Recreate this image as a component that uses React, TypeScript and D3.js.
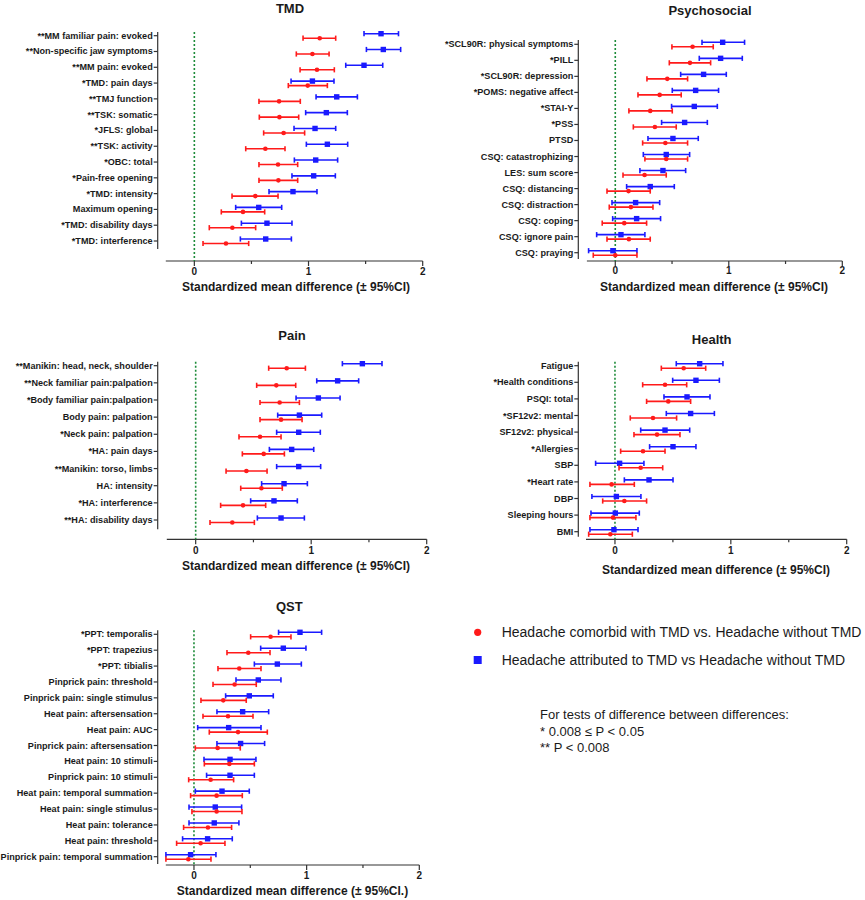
import React from "react";
import * as d3 from "d3";

// ---------- DATA ([mean, lo, hi]) ----------
const tmdLabels = [
  "**MM familiar pain: evoked", "**Non-specific jaw symptoms", "**MM pain: evoked", "*TMD: pain days",
  "**TMJ function", "**TSK: somatic", "*JFLS: global", "**TSK: activity", "*OBC: total",
  "*Pain-free opening", "*TMD: intensity", "Maximum opening", "*TMD: disability days", "*TMD: interference",
];
const tmdRed = [
  [1.098, 0.952, 1.238], [1.034, 0.893, 1.18], [1.074, 0.926, 1.226], [0.993, 0.823, 1.165],
  [0.742, 0.566, 0.928], [0.745, 0.569, 0.914], [0.782, 0.607, 0.966], [0.622, 0.45, 0.794],
  [0.733, 0.566, 0.905], [0.736, 0.566, 0.905], [0.534, 0.33, 0.733], [0.426, 0.236, 0.616],
  [0.333, 0.131, 0.537], [0.277, 0.076, 0.476],
];
const tmdBlue = [
  [1.635, 1.486, 1.788], [1.655, 1.507, 1.807], [1.486, 1.326, 1.65], [1.034, 0.847, 1.223],
  [1.247, 1.066, 1.428], [1.156, 0.975, 1.34], [1.057, 0.873, 1.238], [1.165, 0.981, 1.343],
  [1.063, 0.876, 1.255], [1.045, 0.855, 1.235], [0.864, 0.654, 1.074], [0.564, 0.362, 0.765],
  [0.636, 0.412, 0.855], [0.625, 0.403, 0.85],
];

const psyLabels = [
  "*SCL90R: physical symptoms", "*PILL", "*SCL90R: depression", "*POMS: negative affect", "*STAI-Y",
  "*PSS", "PTSD", "CSQ: catastrophizing", "LES: sum score", "CSQ: distancing", "CSQ: distraction",
  "CSQ: coping", "CSQ: ignore pain", "CSQ: praying",
];
const psyRed = [
  [0.681, 0.499, 0.863], [0.658, 0.476, 0.84], [0.458, 0.279, 0.637], [0.391, 0.2, 0.581],
  [0.308, 0.12, 0.502], [0.349, 0.159, 0.537], [0.441, 0.241, 0.637], [0.449, 0.261, 0.637],
  [0.258, 0.068, 0.449], [0.117, -0.073, 0.308], [0.138, -0.053, 0.332], [0.079, -0.115, 0.276],
  [0.12, -0.073, 0.308], [0.0, -0.194, 0.191],
];
const psyBlue = [
  [0.946, 0.764, 1.139], [0.928, 0.74, 1.119], [0.778, 0.576, 0.978], [0.708, 0.502, 0.91],
  [0.696, 0.496, 0.899], [0.611, 0.408, 0.811], [0.508, 0.288, 0.731], [0.449, 0.247, 0.655],
  [0.42, 0.217, 0.62], [0.308, 0.1, 0.52], [0.179, -0.029, 0.391], [0.188, -0.023, 0.399],
  [0.05, -0.164, 0.261], [-0.021, -0.235, 0.191],
];

const painLabels = [
  "**Manikin: head, neck, shoulder", "**Neck familiar pain:palpation", "*Body familiar pain:palpation",
  "Body pain: palpation", "*Neck pain: palpation", "*HA: pain days", "**Manikin: torso, limbs",
  "HA: intensity", "*HA: interference", "**HA: disability days",
];
const painRed = [
  [0.788, 0.632, 0.95], [0.698, 0.528, 0.866], [0.727, 0.557, 0.898], [0.739, 0.557, 0.921],
  [0.557, 0.375, 0.739], [0.589, 0.404, 0.768], [0.439, 0.263, 0.618], [0.569, 0.39, 0.75],
  [0.41, 0.216, 0.606], [0.317, 0.124, 0.508],
];
const painBlue = [
  [1.443, 1.27, 1.613], [1.229, 1.048, 1.411], [1.062, 0.869, 1.25], [0.898, 0.71, 1.091],
  [0.892, 0.701, 1.079], [0.831, 0.638, 1.022], [0.892, 0.701, 1.082], [0.765, 0.571, 0.967],
  [0.678, 0.476, 0.88], [0.739, 0.534, 0.941],
];

const healthLabels = [
  "Fatigue", "*Health conditions", "PSQI: total", "*SF12v2: mental", "SF12v2: physical", "*Allergies",
  "SBP", "*Heart rate", "DBP", "Sleeping hours", "BMI",
];
const healthRed = [
  [0.593, 0.4, 0.783], [0.432, 0.239, 0.619], [0.46, 0.273, 0.653], [0.328, 0.132, 0.532],
  [0.363, 0.164, 0.561], [0.242, 0.049, 0.432], [0.222, 0.035, 0.412], [-0.029, -0.216, 0.167],
  [0.081, -0.106, 0.273], [-0.017, -0.216, 0.181], [-0.04, -0.227, 0.15],
];
const healthBlue = [
  [0.731, 0.529, 0.932], [0.699, 0.498, 0.901], [0.622, 0.423, 0.82], [0.653, 0.443, 0.858],
  [0.432, 0.222, 0.645], [0.501, 0.299, 0.699], [0.04, -0.167, 0.25], [0.294, 0.081, 0.501],
  [0.012, -0.199, 0.224], [0.003, -0.207, 0.21], [-0.009, -0.216, 0.199],
];

const qstLabels = [
  "*PPT: temporalis", "*PPT: trapezius", "*PPT: tibialis", "Pinprick pain: threshold",
  "Pinprick pain: single stimulus", "Heat pain: aftersensation", "Heat pain: AUC",
  "Pinprick pain: aftersensation", "Heat pain: 10 stimuli", "Pinprick pain: 10 stimuli",
  "Heat pain: temporal summation", "Heat pain: single stimulus", "Heat pain: tolerance",
  "Heat pain: threshold", "Pinprick pain: temporal summation",
];
const qstRed = [
  [0.68, 0.503, 0.861], [0.482, 0.293, 0.675], [0.402, 0.213, 0.595], [0.361, 0.169, 0.553],
  [0.26, 0.062, 0.464], [0.302, 0.08, 0.524], [0.391, 0.136, 0.651], [0.21, 0.012, 0.411],
  [0.314, 0.092, 0.536], [0.148, -0.047, 0.352], [0.201, -0.03, 0.429], [0.201, -0.018, 0.426],
  [0.124, -0.092, 0.334], [0.059, -0.154, 0.275], [-0.05, -0.249, 0.151],
];
const qstBlue = [
  [0.941, 0.751, 1.133], [0.793, 0.592, 0.994], [0.74, 0.536, 0.953], [0.571, 0.373, 0.772],
  [0.491, 0.281, 0.704], [0.432, 0.204, 0.663], [0.308, 0.033, 0.595], [0.414, 0.204, 0.627],
  [0.32, 0.089, 0.55], [0.32, 0.112, 0.536], [0.249, 0.012, 0.491], [0.189, -0.044, 0.423],
  [0.18, -0.044, 0.399], [0.121, -0.101, 0.34], [-0.03, -0.249, 0.195],
];

const xDomain = [-0.25, 2];
const xTickValues = [0, 1, 2];
const xMinorTicks = [0.5, 1.5];
const legendLabels = [
  "Headache comorbid with TMD vs. Headache without TMD",
  "Headache attributed to TMD vs Headache without TMD",
];
const noteLines = [
  "For tests of difference between differences:",
  "* 0.008 \u2264 P < 0.05",
  "** P < 0.008",
];

// ---------- LAYOUT ----------
const FONT = "'Liberation Sans', Arial, Helvetica, sans-serif";
const RED = "#ff1a1a";
const BLUE = "#1a1aff";
const GREEN = "#1e8c3a";
const TXT = "#1a1a1a";

type Panel = {
  title: string; xlabel: string; labels: string[]; red: number[][]; blue: number[][];
  x0: number; x1: number; yAxisX: number; row0: number; row1: number; axTop: number; axBot: number;
  xAxisY: number; tickY: number; titleX: number; titleY: number; xlabX: number; xlabY: number;
};

const XL = "Standardized mean difference (\u00b1 95%CI)";

const panels: Panel[] = [
  { title: "TMD", xlabel: XL, labels: tmdLabels, red: tmdRed, blue: tmdBlue,
    x0: 165.8, x1: 422.7, yAxisX: 157.7, row0: 35.7, row1: 241, axTop: 32, axBot: 249,
    xAxisY: 261, tickY: 271, titleX: 290, titleY: 8, xlabX: 296, xlabY: 287 },
  { title: "Psychosocial", xlabel: XL, labels: psyLabels, red: psyRed, blue: psyBlue,
    x0: 586.9, x1: 842.3, yAxisX: 578.3, row0: 44.3, row1: 252.7, axTop: 40, axBot: 259,
    xAxisY: 261, tickY: 270, titleX: 710, titleY: 10, xlabX: 714, xlabY: 286.7 },
  { title: "Pain", xlabel: XL, labels: painLabels, red: painRed, blue: painBlue,
    x0: 166.8, x1: 426.7, yAxisX: 157.7, row0: 365.7, row1: 520, axTop: 361.7, axBot: 529.3,
    xAxisY: 539.3, tickY: 550, titleX: 292, titleY: 335.7, xlabX: 296, xlabY: 565.7 },
  { title: "Health", xlabel: XL, labels: healthLabels, red: healthRed, blue: healthBlue,
    x0: 586, x1: 846.7, yAxisX: 578.3, row0: 365.7, row1: 531.7, axTop: 361.7, axBot: 536.7,
    xAxisY: 539.3, tickY: 550, titleX: 711.7, titleY: 339.3, xlabX: 716, xlabY: 570 },
  { title: "QST", xlabel: "Standardized mean difference (\u00b1 95%CI.)", labels: qstLabels, red: qstRed, blue: qstBlue,
    x0: 165.8, x1: 419.3, yAxisX: 157.7, row0: 634.3, row1: 856.7, axTop: 630.3, axBot: 864,
    xAxisY: 865, tickY: 875, titleX: 289.3, titleY: 606.7, xlabX: 292.5, xlabY: 891 },
];

function ErrBar({ x, y, d, color, shape }: { x: d3.ScaleLinear<number, number>; y: number; d: number[]; color: string; shape: "circle" | "square" }) {
  const [m, lo, hi] = d;
  const cap = 2.6;
  return (
    <g>
      <line x1={x(lo)} x2={x(hi)} y1={y} y2={y} stroke={color} strokeWidth={1.6} />
      <line x1={x(lo)} x2={x(lo)} y1={y - cap} y2={y + cap} stroke={color} strokeWidth={1.6} />
      <line x1={x(hi)} x2={x(hi)} y1={y - cap} y2={y + cap} stroke={color} strokeWidth={1.6} />
      {shape === "circle" ? (
        <circle cx={x(m)} cy={y} r={2.3} fill={color} />
      ) : (
        <rect x={x(m) - 2.7} y={y - 2.7} width={5.4} height={5.4} fill={color} />
      )}
    </g>
  );
}

function ForestPanel({ p }: { p: Panel }) {
  const x = d3.scaleLinear().domain(xDomain).range([p.x0, p.x1]);
  const y = d3.scalePoint<string>().domain(p.labels).range([p.row0, p.row1]);
  return (
    <g>
      <text x={p.titleX} y={p.titleY} textAnchor="middle" dominantBaseline="central"
        fontFamily={FONT} fontWeight="bold" fontSize={13} fill={TXT}>{p.title}</text>
      {/* y axis */}
      <line x1={p.yAxisX} x2={p.yAxisX} y1={p.axTop} y2={p.axBot} stroke="#333" strokeWidth={1.2} />
      {p.labels.map((l) => (
        <g key={l}>
          <line x1={p.yAxisX - 4} x2={p.yAxisX} y1={y(l)!} y2={y(l)!} stroke="#333" strokeWidth={1.2} />
          <text x={p.yAxisX - 5} y={y(l)!} textAnchor="end" dominantBaseline="central"
            fontFamily={FONT} fontWeight="bold" fontSize={9.1} fill={TXT}>{l}</text>
        </g>
      ))}
      {/* x axis */}
      <line x1={p.x0} x2={p.x1} y1={p.xAxisY} y2={p.xAxisY} stroke="#333" strokeWidth={1.2} />
      {xTickValues.map((t) => (
        <g key={t}>
          <line x1={x(t)} x2={x(t)} y1={p.xAxisY} y2={p.xAxisY + 5} stroke="#333" strokeWidth={1.2} />
          <text x={x(t)} y={p.tickY} textAnchor="middle" dominantBaseline="central"
            fontFamily={FONT} fontWeight="bold" fontSize={10} fill={TXT}>{t}</text>
        </g>
      ))}
      {xMinorTicks.map((t) => (
        <line key={t} x1={x(t)} x2={x(t)} y1={p.xAxisY} y2={p.xAxisY + 3} stroke="#333" strokeWidth={1.2} />
      ))}
      <text x={p.xlabX} y={p.xlabY} textAnchor="middle" dominantBaseline="central"
        fontFamily={FONT} fontWeight="bold" fontSize={12} fill={TXT}>{p.xlabel}</text>
      {/* zero line */}
      <line x1={x(0)} x2={x(0)} y1={p.axTop} y2={p.xAxisY} stroke={GREEN} strokeWidth={1.6} strokeDasharray="2,2" />
      {p.labels.map((l, i) => (
        <g key={"e" + l}>
          <ErrBar x={x} y={y(l)! - 2} d={p.blue[i]} color={BLUE} shape="square" />
          <ErrBar x={x} y={y(l)! + 2.5} d={p.red[i]} color={RED} shape="circle" />
        </g>
      ))}
    </g>
  );
}

export default function App() {
  return (
    <svg width={865} height={900} style={{ position: "absolute", left: 0, top: 0, background: "#fff" }}>
      <rect width={865} height={900} fill="#fff" />
      {panels.map((p) => <ForestPanel key={p.title} p={p} />)}
      {/* legend */}
      <circle cx={477.7} cy={632.3} r={3.6} fill={RED} />
      <text x={501.7} y={632.3} dominantBaseline="central" fontFamily={FONT} fontSize={14} fill={TXT}>{legendLabels[0]}</text>
      <rect x={473.7} y={656} width={8} height={8} fill={BLUE} />
      <text x={501.7} y={660} dominantBaseline="central" fontFamily={FONT} fontSize={14} fill={TXT}>{legendLabels[1]}</text>
      {noteLines.map((t, i) => (
        <text key={t} x={540} y={714.3 + i * 16.7} dominantBaseline="central" fontFamily={FONT} fontSize={13} fill={TXT}>{t}</text>
      ))}
    </svg>
  );
}
